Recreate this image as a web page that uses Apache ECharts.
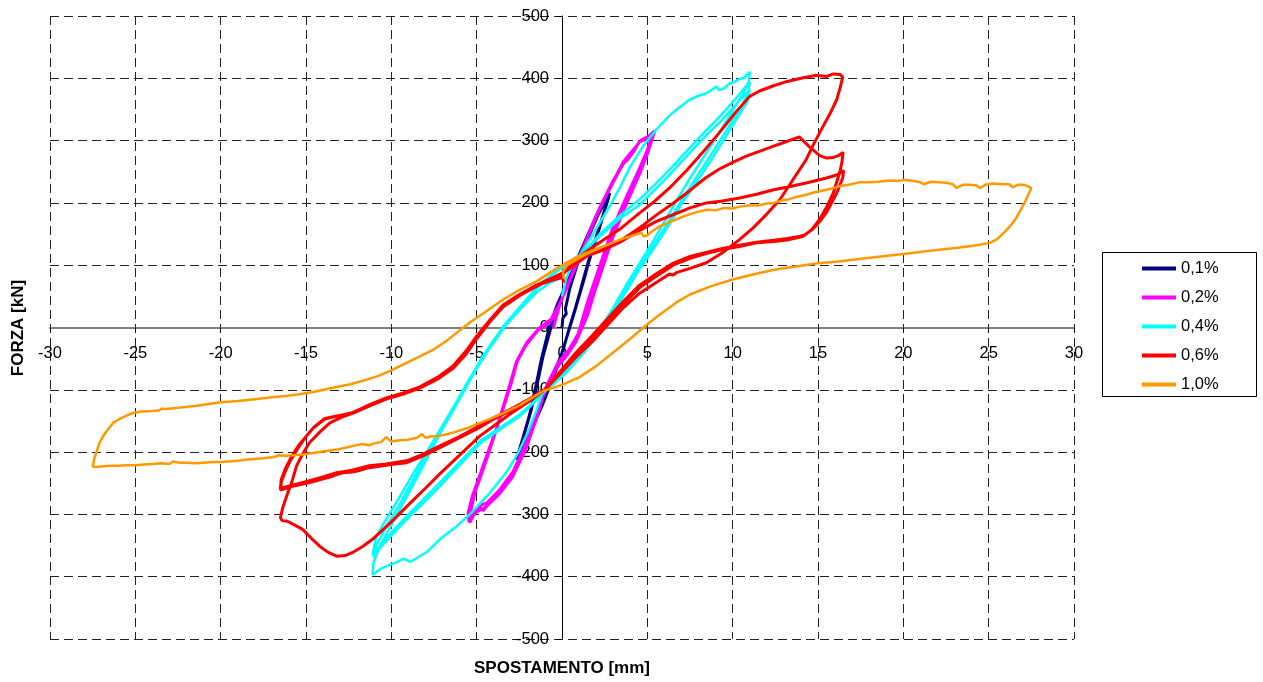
<!DOCTYPE html>
<html>
<head>
<meta charset="utf-8">
<script src="https://cdn.jsdelivr.net/npm/echarts@6/dist/echarts.min.js"></script>
<style>
html,body{margin:0;padding:0;background:#fff;}
#chart{width:1263px;height:682px;}
</style>
</head>
<body>
<div id="chart"></div>
<script>
// ---------------- DATA ----------------
const seriesNames = ['0,1%', '0,2%', '0,4%', '0,6%', '1,0%'];
const seriesColors = ['#000080', '#FF00FF', '#00FFFF', '#FF0000', '#FF9900'];
const xTitle = 'SPOSTAMENTO [mm]';
const yTitle = 'FORZA [kN]';
const xRange = [-30, 30, 5];
const yRange = [-500, 500, 100];

// displacement [mm], force [kN]
const drift01 = [
 [0.0, 0], [0.05, 15], [0.25, 22], [0.2, 30], [0.45, 62], [0.9, 102], [1.5, 142], [2.1, 180], [2.5, 200], [2.8, 216],
 [2.4, 180], [2.0, 145], [1.63, 114], [1.3, 82], [1.04, 56], [0.75, 28], [0.46, 2], [0.07, -35], [-0.3, -65], [-0.71, -94], [-1.2, -128], [-1.7, -158], [-2.1, -182], [-2.5, -201], [-2.67, -212],
 [-2.3, -178], [-1.9, -140], [-1.5, -90], [-1.2, -50], [-0.75, 0], [-0.3, 35], [0.3, 72], [0.9, 110], [1.5, 148], [2.1, 184], [2.5, 202], [2.75, 210],
 [2.5, 188], [2.2, 160], [1.9, 134], [1.6, 108], [1.3, 78], [1.0, 50], [0.7, 22], [0.4, -5], [0.0, -40], [-0.4, -70], [-0.8, -100], [-1.3, -133], [-1.8, -163], [-2.2, -186], [-2.55, -205],
 [-2.2, -170], [-1.8, -132], [-1.4, -84], [-1.1, -45], [-0.65, 0], [-0.25, 28]
];

const drift02 = [
 [-0.5, 0], [-0.2, 30], [0.26, 65], [0.8, 100], [1.24, 128], [1.82, 165], [2.2, 190], [2.6, 212], [3.0, 233], [3.58, 263], [3.75, 267], [3.87, 270], [4.17, 281], [4.55, 299], [4.95, 305], [5.2, 310], [5.44, 316],
 [5.15, 291], [4.55, 253], [3.78, 205], [3.0, 155], [2.6, 122], [2.2, 90], [1.8, 58], [1.43, 25], [0.85, -19], [0.3, -42], [-0.32, -62], [-0.8, -88], [-1.1, -110], [-1.5, -147], [-2.08, -190], [-2.86, -236], [-3.64, -264], [-4.42, -286], [-4.6, -294], [-4.8, -288], [-5.0, -293], [-5.25, -305], [-5.4, -313],
 [-5.5, -300], [-5.2, -268], [-4.6, -220], [-3.84, -162], [-3.06, -92], [-2.67, -55], [-2.08, -25], [-1.3, 0], [-0.71, 10], [-0.2, 35], [0.26, 62], [0.8, 98], [1.24, 128], [1.82, 168], [2.2, 192], [2.6, 214], [3.0, 236], [3.58, 262], [4.17, 285], [4.55, 298], [5.0, 303], [5.3, 310],
 [5.0, 285], [4.55, 256], [3.78, 210], [3.0, 162], [2.6, 130], [2.2, 98], [1.8, 66], [1.43, 35], [0.95, -10], [0.4, -36], [-0.2, -55], [-0.7, -82], [-1.1, -106], [-1.5, -142], [-2.08, -184], [-2.86, -231], [-3.64, -260], [-4.42, -282], [-4.8, -285], [-5.0, -290], [-5.3, -308],
 [-5.35, -295], [-5.1, -265], [-4.5, -218], [-3.8, -160], [-3.0, -92], [-2.6, -52], [-2.0, -22], [-1.2, 2], [-0.6, 14], [-0.1, 40], [0.35, 68], [0.9, 104], [1.3, 132], [1.9, 172], [2.3, 196], [2.7, 218], [3.1, 240], [3.6, 266], [4.2, 286], [4.6, 300], [5.0, 306], [5.35, 312],
 [5.05, 282], [4.6, 250], [3.8, 200], [3.05, 150], [2.65, 118], [2.25, 85], [1.85, 52], [1.5, 20], [0.8, -24], [0.2, -48], [-0.35, -66], [-0.8, -92], [-1.15, -114], [-1.55, -150], [-2.1, -194], [-2.9, -240], [-3.7, -268], [-4.45, -288], [-4.8, -293], [-5.1, -298], [-5.45, -312],
 [-5.5, -298], [-5.25, -270], [-4.65, -225], [-3.9, -168], [-3.1, -97], [-2.7, -58], [-2.1, -28], [-1.4, -4], [-0.8, 6], [-0.4, 20]
];

const drift04 = [
 [0.0, 50], [0.26, 80], [0.6, 100], [1.04, 116], [1.82, 150], [2.8, 195], [3.4, 225], [3.97, 257], [4.75, 291], [5.5, 317], [6.3, 340], [6.8, 352], [7.5, 366], [8.0, 372], [8.46, 376], [8.8, 382], [9.05, 387], [9.2, 381], [9.5, 384], [9.83, 392], [10.1, 394], [10.4, 399], [10.7, 401], [10.85, 407], [11.0, 410],
 [10.95, 395], [10.6, 375], [10.0, 348], [9.2, 312], [8.4, 278], [7.6, 244], [6.8, 208], [6.0, 170], [5.2, 132], [4.55, 103], [3.8, 70], [3.0, 32], [2.4, 5], [1.6, -22], [0.7, -52], [-0.2, -80], [-1.1, -102],
 [-1.5, -133], [-2.0, -168], [-2.6, -203], [-3.25, -232], [-4.3, -268], [-5.4, -300], [-6.3, -322], [-7.16, -340], [-7.9, -360], [-8.5, -370], [-8.9, -376], [-9.3, -371], [-9.7, -377], [-10.1, -381], [-10.6, -387], [-10.9, -393], [-11.1, -397],
 [-11.05, -378], [-10.7, -352], [-10.1, -322], [-9.3, -282], [-8.5, -241], [-7.7, -199], [-6.9, -158], [-6.0, -115], [-5.3, -80], [-4.8, -57], [-4.1, -27], [-3.45, 2], [-2.5, 32], [-1.5, 62], [-0.7, 82], [0.0, 96], [0.6, 107], [1.2, 118],
 [2.2, 150], [3.4, 180], [4.55, 206], [5.4, 228], [6.3, 253], [7.4, 286], [8.5, 318], [9.3, 340], [10.0, 362], [10.5, 378], [10.8, 388], [11.0, 394],
 [10.9, 375], [10.4, 350], [9.6, 315], [8.7, 276], [7.8, 238], [7.0, 204], [6.3, 172], [5.4, 133], [4.55, 98], [3.5, 50], [2.4, 0], [1.3, -38], [0.2, -72], [-1.1, -104],
 [-1.8, -123], [-2.5, -140], [-3.6, -160], [-4.8, -182], [-6.0, -216], [-7.16, -249], [-8.1, -275], [-9.0, -300], [-9.9, -326], [-10.5, -345], [-10.8, -360], [-11.0, -372],
 [-10.85, -348], [-10.4, -325], [-9.6, -288], [-8.8, -248], [-8.0, -208], [-7.1, -165], [-6.3, -127], [-5.5, -88], [-4.8, -53], [-4.0, -20], [-3.3, 6], [-2.4, 35], [-1.5, 64], [-0.6, 85], [0.2, 102], [1.2, 119],
 [2.2, 146], [3.4, 175], [4.55, 197], [5.4, 220], [6.3, 245], [7.4, 278], [8.5, 310], [9.3, 331], [10.0, 352], [10.6, 370], [11.0, 381],
 [10.85, 362], [10.3, 338], [9.5, 302], [8.6, 263], [7.8, 230], [7.0, 198], [6.3, 166], [5.4, 128], [4.55, 94], [3.5, 46], [2.4, -2], [1.3, -40], [0.2, -74], [-1.1, -105],
 [-1.8, -125], [-2.5, -143], [-3.6, -163], [-4.8, -186], [-6.0, -221], [-7.16, -255], [-8.1, -281], [-9.0, -305], [-9.9, -331], [-10.5, -349], [-10.8, -358], [-11.1, -366],
 [-10.9, -336], [-10.4, -312], [-9.6, -276], [-8.8, -238], [-8.0, -203], [-7.1, -162], [-6.3, -125], [-5.5, -86], [-4.8, -55], [-4.0, -24], [-3.4, 0], [-2.5, 28], [-1.5, 56], [-0.7, 72], [0.0, 80]
];

const drift06 = [
 [0.1, 72], [0.02, 82], [0.2, 95], [0.8, 110], [1.43, 122], [2.4, 140], [3.4, 158], [4.55, 184], [5.4, 202], [6.3, 224], [7.3, 252], [8.3, 283], [9.2, 312], [10.1, 343], [11.0, 371], [11.6, 380], [12.4, 388], [13.2, 395], [14.0, 400], [14.9, 405], [15.5, 403], [15.9, 407], [16.3, 406], [16.45, 402],
 [16.3, 385], [16.1, 366], [15.7, 343], [15.2, 318], [14.7, 292], [14.3, 269], [13.5, 236], [12.76, 205], [12.0, 182], [11.2, 160], [10.4, 141], [9.4, 120], [8.46, 104], [7.5, 95], [6.7, 88], [6.5, 84], [6.3, 86], [5.5, 72], [4.55, 55], [3.6, 32], [2.8, 8], [1.8, -22], [0.8, -48], [-0.1, -74], [-1.0, -100],
 [-2.0, -120], [-3.0, -138], [-4.0, -158], [-4.8, -174], [-6.0, -205], [-7.16, -235], [-8.0, -258], [-8.9, -282], [-10.0, -312], [-11.1, -340], [-11.7, -352], [-12.2, -360], [-12.7, -366], [-13.2, -367], [-13.7, -361], [-14.2, -351], [-14.7, -338], [-15.2, -324], [-15.6, -318], [-16.1, -311], [-16.4, -310], [-16.5, -305],
 [-16.35, -288], [-16.1, -268], [-15.8, -245], [-15.55, -222], [-15.2, -203], [-14.8, -185], [-14.2, -168], [-13.6, -153], [-12.9, -144], [-12.2, -137], [-11.2, -125], [-10.3, -115], [-9.3, -107], [-8.3, -97], [-7.3, -83], [-6.4, -66], [-5.6, -42], [-5.0, -18], [-4.2, 10], [-3.45, 33], [-2.5, 51], [-1.5, 66], [-0.7, 77], [0.07, 87], [0.7, 100], [1.43, 114],
 [2.4, 126], [3.4, 139], [4.55, 160], [5.5, 180], [6.5, 199], [7.5, 220], [8.4, 240], [9.2, 254], [10.0, 265], [10.8, 275], [11.6, 283], [12.4, 291], [13.0, 297], [13.5, 302], [13.9, 306], [14.2, 298], [14.5, 290], [14.8, 283], [15.1, 276], [15.5, 272], [15.9, 273], [16.2, 276], [16.47, 281],
 [16.4, 265], [16.3, 252], [16.1, 234], [15.9, 216], [15.5, 193], [15.1, 174], [14.6, 156], [14.1, 146], [13.3, 141], [12.4, 138], [11.4, 136], [10.4, 130], [9.4, 125], [8.5, 119], [7.5, 111], [6.5, 100], [6.3, 96], [5.5, 82], [4.55, 64], [3.6, 38], [2.8, 14], [1.8, -16], [0.8, -44], [-0.1, -72], [-1.0, -100],
 [-2.0, -118], [-3.0, -133], [-4.0, -147], [-4.8, -160], [-6.0, -177], [-7.16, -193], [-8.2, -207], [-9.1, -217], [-9.8, -219], [-10.3, -221], [-10.8, -223], [-11.3, -225], [-11.8, -229], [-12.3, -232], [-12.8, -233], [-13.2, -236], [-13.6, -240], [-14.0, -243], [-14.4, -246], [-14.8, -249], [-15.3, -252], [-15.8, -255], [-16.2, -258], [-16.5, -261],
 [-16.45, -248], [-16.2, -230], [-15.9, -213], [-15.5, -195], [-15.0, -175], [-14.5, -159], [-13.9, -146], [-13.2, -142], [-12.4, -138], [-11.2, -124], [-10.3, -114], [-9.3, -106], [-8.3, -96], [-7.3, -81], [-6.4, -63], [-5.6, -39], [-5.0, -15], [-4.2, 12], [-3.45, 36], [-2.5, 53], [-1.5, 68], [-0.7, 78], [0.07, 88], [0.7, 101], [1.43, 115],
 [2.4, 124], [3.4, 137], [4.55, 156], [5.5, 170], [6.5, 181], [7.5, 192], [8.46, 200], [9.4, 203], [10.4, 208], [11.4, 214], [12.4, 221], [13.3, 226], [14.3, 232], [14.9, 236], [15.5, 240], [16.0, 244], [16.3, 248], [16.5, 252],
 [16.45, 240], [16.3, 230], [16.1, 216], [15.8, 200], [15.5, 185], [15.1, 170], [14.7, 158], [14.3, 150], [13.9, 146], [13.2, 143], [12.4, 140], [11.4, 137], [10.4, 132], [9.4, 127], [8.5, 121], [7.5, 114], [6.5, 103], [5.5, 86], [4.55, 68], [3.6, 42], [2.8, 18], [1.8, -12], [0.8, -41], [-0.1, -70], [-1.0, -99],
 [-2.0, -116], [-3.0, -131], [-4.0, -145], [-4.8, -157], [-6.0, -175], [-7.16, -190], [-8.2, -204], [-9.1, -214], [-10.3, -219], [-11.3, -222], [-12.3, -229], [-13.2, -233], [-14.0, -240], [-14.8, -246], [-15.8, -253], [-16.5, -258],
 [-16.45, -244], [-16.2, -226], [-15.9, -210], [-15.4, -188], [-14.6, -162], [-13.9, -147], [-13.0, -141], [-12.2, -136], [-11.2, -123], [-10.3, -113], [-9.3, -105], [-8.3, -95], [-7.3, -80], [-6.4, -62], [-5.6, -37], [-5.0, -14], [-4.2, 13], [-3.45, 36], [-2.5, 53], [-1.5, 67], [-0.7, 75], [0.0, 80]
];

const drift10 = [
 [0.1, 78], [0.05, 90], [0.3, 100], [0.8, 108], [1.43, 118], [2.4, 130], [3.4, 141], [4.2, 148], [4.65, 152], [4.8, 146], [5.0, 148], [5.3, 155], [5.7, 162], [6.3, 169], [7.0, 177], [7.5, 182], [8.0, 186], [8.5, 189], [9.0, 188], [9.5, 192], [10.0, 191], [10.4, 194], [10.9, 196], [11.5, 196], [12.0, 199], [12.4, 200], [12.9, 204], [13.3, 206], [13.8, 210], [14.3, 213], [14.8, 217], [15.3, 220], [15.8, 223], [16.3, 227], [16.8, 229], [17.4, 233], [18.0, 233], [18.5, 234], [19.2, 236], [19.7, 235], [20.0, 237], [20.6, 235], [21.0, 233], [21.2, 230], [21.6, 234], [22.1, 233], [22.6, 232], [22.9, 230], [23.1, 224], [23.5, 229], [23.9, 229], [24.3, 228], [24.5, 224], [24.8, 229], [25.3, 231], [25.8, 230], [26.2, 230], [26.4, 225], [26.7, 229], [27.1, 229], [27.5, 224],
 [27.3, 212], [27.1, 200], [26.8, 185], [26.6, 175], [26.3, 164], [26.0, 155], [25.5, 142], [25.06, 136], [24.5, 133], [24.0, 131], [23.2, 128], [22.5, 126], [21.2, 122], [20.0, 118], [18.7, 114], [17.4, 110], [16.2, 106], [15.0, 103], [13.7, 98], [12.5, 93], [11.3, 86], [10.0, 77], [8.7, 66], [7.5, 53], [6.8, 42], [6.3, 32], [5.6, 18], [4.95, 4], [4.0, -18], [3.0, -40], [2.0, -62], [1.0, -80], [0.0, -92], [-1.1, -102], [-2.5, -125], [-3.4, -137], [-4.25, -147], [-5.0, -155], [-5.5, -161], [-6.3, -168], [-7.16, -174], [-7.7, -175], [-8.0, -177], [-8.2, -171], [-8.5, -177], [-9.0, -180], [-9.5, -181], [-10.0, -183], [-10.3, -176], [-10.6, -184], [-11.0, -186], [-11.3, -189], [-11.7, -187], [-12.2, -190], [-12.7, -193], [-13.2, -196], [-13.7, -198], [-14.2, -200], [-14.7, -202], [-15.2, -204], [-15.7, -205], [-16.2, -206], [-16.6, -205], [-16.9, -208], [-17.5, -210], [-18.0, -211], [-18.4, -212], [-19.0, -214], [-19.5, -215], [-19.95, -216], [-20.5, -216], [-21.0, -217], [-21.5, -218], [-22.0, -217], [-22.4, -217], [-22.8, -215], [-23.0, -219], [-23.5, -218], [-24.0, -219], [-24.5, -220], [-25.0, -221], [-25.5, -221], [-26.0, -222], [-26.5, -222], [-27.0, -223], [-27.3, -224], [-27.5, -223],
 [-27.4, -210], [-27.1, -185], [-26.9, -175], [-26.7, -167], [-26.5, -160], [-26.3, -153], [-26.0, -148], [-25.7, -144], [-25.4, -140], [-25.1, -137], [-24.6, -135], [-24.0, -134], [-23.6, -133], [-23.45, -130], [-23.2, -131], [-22.5, -129], [-21.5, -126], [-20.5, -122], [-20.0, -120], [-19.0, -118], [-18.0, -115], [-17.0, -112], [-16.2, -110], [-15.4, -107], [-14.5, -103], [-13.5, -97], [-12.4, -91], [-11.5, -84], [-10.8, -78], [-10.1, -70], [-9.2, -58], [-8.3, -46], [-7.5, -35], [-6.8, -22], [-6.1, -7], [-5.4, 8], [-4.5, 25], [-3.45, 45], [-2.5, 60], [-1.5, 74], [-0.7, 88], [0.07, 101], [0.8, 112], [1.43, 120], [2.2, 128]
];

const allSeries = [drift01, drift02, drift04, drift06, drift10];
const lineWidths = [3, 3, 2.5, 3, 2.5];

// ---------------- CHART ----------------
const FONT = "'Liberation Sans', Arial, sans-serif";
const GRID = {left: 50, top: 16, right: 189, bottom: 43};
const PLOT_W = 1263 - GRID.left - GRID.right;
const PLOT_H = 682 - GRID.top - GRID.bottom;
// axes cross at the data origin (centre of the symmetric ranges)
const X_AXIS_OFFSET = -PLOT_H * (0 - yRange[0]) / (yRange[1] - yRange[0]);
const Y_AXIS_OFFSET = -PLOT_W * (0 - xRange[0]) / (xRange[1] - xRange[0]);

const chart = echarts.init(document.getElementById('chart'), null, {renderer: 'canvas'});

const option = {
  backgroundColor: '#ffffff',
  animation: false,
  grid: {left: GRID.left, top: GRID.top, right: GRID.right, bottom: GRID.bottom, show: false},
  xAxis: {
    type: 'value', min: xRange[0], max: xRange[1], interval: xRange[2],
    position: 'bottom', offset: X_AXIS_OFFSET,
    axisLine: {show: true, onZero: false, lineStyle: {color: '#808080', width: 2}},
    axisTick: {show: true, length: 5, lineStyle: {color: '#000'}},
    axisLabel: {margin: 17, fontSize: 16.5, color: '#000', fontFamily: FONT},
    splitLine: {show: true, lineStyle: {color: '#222', width: 1, type: [9, 5]}}
  },
  yAxis: {
    type: 'value', min: yRange[0], max: yRange[1], interval: yRange[2],
    position: 'left', offset: Y_AXIS_OFFSET,
    axisLine: {show: true, onZero: false, lineStyle: {color: '#000', width: 1}},
    axisTick: {show: true, length: 5, lineStyle: {color: '#000'}},
    axisLabel: {margin: 13, fontSize: 16.5, color: '#000', fontFamily: FONT},
    splitLine: {show: true, lineStyle: {color: '#222', width: 1, type: [9, 5]}}
  },
  legend: {
    orient: 'vertical', left: 1142, top: 254, padding: 0, itemGap: 0,
    itemWidth: 34, itemHeight: 4, icon: 'rect',
    textStyle: {fontSize: 16.5, color: '#000', fontFamily: FONT, lineHeight: 29},
    data: seriesNames, selectedMode: false
  },
  graphic: [
    {type: 'rect', z: 1, shape: {x: 1102.5, y: 252.5, width: 154, height: 144},
     style: {fill: '#fff', stroke: '#000', lineWidth: 1}},
    {type: 'text', x: 562, y: 668, z: 10,
     style: {text: xTitle, fill: '#000', font: 'bold 17px ' + FONT,
             align: 'center', verticalAlign: 'middle', textAlign: 'center', textVerticalAlign: 'middle'}},
    {type: 'text', x: 18, y: 328, rotation: Math.PI / 2, z: 10,
     style: {text: yTitle, fill: '#000', font: 'bold 17px ' + FONT,
             align: 'center', verticalAlign: 'middle', textAlign: 'center', textVerticalAlign: 'middle'}}
  ],
  series: allSeries.map((d, i) => ({
    name: seriesNames[i],
    type: 'line',
    data: d,
    showSymbol: false,
    symbol: 'none',
    smooth: false,
    lineStyle: {color: seriesColors[i], width: lineWidths[i]},
    itemStyle: {color: seriesColors[i]},
    emphasis: {disabled: true},
    z: 2 + i
  }))
};
chart.setOption(option);
</script>
</body>
</html>
